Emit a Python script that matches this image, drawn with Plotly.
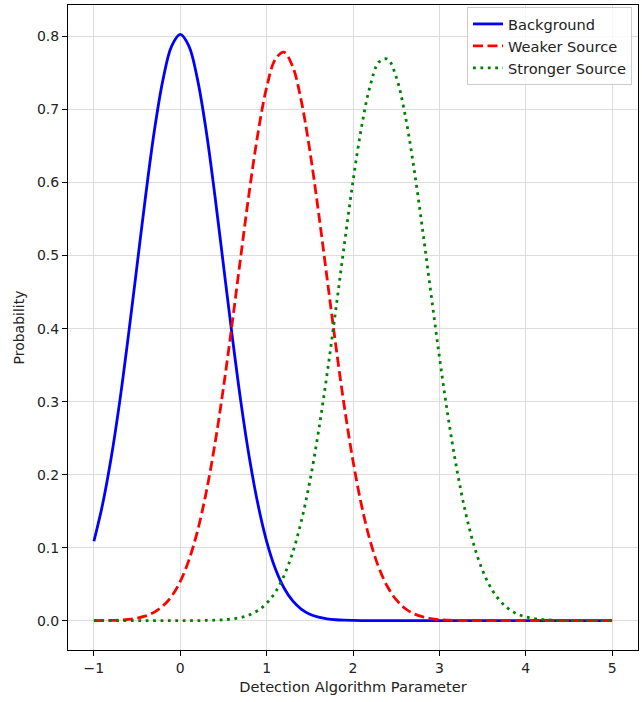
import plotly.graph_objects as go

x_values = [round(-1 + 0.1 * i, 1) for i in range(61)]

background = [
    0.1087, 0.159, 0.223, 0.301, 0.391, 0.487, 0.583, 0.671, 0.741, 0.787,
    0.803,
    0.787, 0.741, 0.671, 0.583, 0.487, 0.391, 0.301, 0.223, 0.159, 0.1087,
    0.0714, 0.0451, 0.0273, 0.0159, 0.0089, 0.0048, 0.0025, 0.0012, 0.0006, 0.0003,
    0.0001, 0, 0, 0, 0, 0, 0, 0, 0, 0,
    0, 0, 0, 0, 0, 0, 0, 0, 0, 0,
    0, 0, 0, 0, 0, 0, 0, 0, 0, 0,
]

weaker = [
    0.0001, 0.0002, 0.0004, 0.0009, 0.0018, 0.0035, 0.0065, 0.0117, 0.0202, 0.0335,
    0.0537,
    0.0829, 0.1229, 0.1755, 0.2412, 0.3192, 0.4065, 0.4983, 0.5881, 0.6679, 0.7303,
    0.7686, 0.7786, 0.7593, 0.7126, 0.6439, 0.5600, 0.4688, 0.3777, 0.2930, 0.2188,
    0.1572, 0.1087, 0.0724, 0.0464, 0.0287, 0.0170, 0.0097, 0.0054, 0.0028, 0.0014,
    0.0007, 0.0003, 0.0002, 0.0001, 0, 0, 0, 0, 0, 0,
    0, 0, 0, 0, 0, 0, 0, 0, 0, 0,
]

stronger = [
    0, 0, 0, 0, 0, 0, 0, 0, 0, 0,
    0.00002,
    0.00005, 0.0001, 0.0003, 0.0006, 0.0012, 0.0023, 0.0043, 0.0079, 0.0140, 0.0238,
    0.0388, 0.0612, 0.0928, 0.1355, 0.1908, 0.2588, 0.3380, 0.4253, 0.5154, 0.6018,
    0.6768, 0.7331, 0.7651, 0.7691, 0.7448, 0.6947, 0.6242, 0.5403, 0.4505, 0.3618,
    0.2799, 0.2086, 0.1497, 0.1035, 0.0689, 0.0442, 0.0274, 0.0163, 0.0093, 0.0052,
    0.0027, 0.0014, 0.0007, 0.0003, 0.0002, 0.0001, 0, 0, 0, 0,
]

series_names = ["Background", "Weaker Source", "Stronger Source"]
x_ticks = [-1, 0, 1, 2, 3, 4, 5]
y_ticks = [0.0, 0.1, 0.2, 0.3, 0.4, 0.5, 0.6, 0.7, 0.8]

FONT = "DejaVu Sans"
TICK_FS = 14
TITLE_FS = 14.6
TEXT_COLOR = "#222222"

fig = go.Figure()
fig.add_trace(go.Scatter(x=x_values, y=background, mode="lines", name=series_names[0],
                         line=dict(color="#0000ff", width=2.8, shape="spline")))
fig.add_trace(go.Scatter(x=x_values, y=weaker, mode="lines", name=series_names[1],
                         line=dict(color="#ff0000", width=2.8, dash="10px,4.5px", shape="spline")))
fig.add_trace(go.Scatter(x=x_values, y=stronger, mode="lines", name=series_names[2],
                         line=dict(color="#008000", width=2.8, dash="2.8px,4.6px", shape="spline")))

axis_common = dict(
    showline=True, linecolor="black", linewidth=1.1, mirror=True,
    ticks="outside", ticklen=5, tickwidth=1.1, tickcolor="black",
    showgrid=True, gridcolor="#dcdcdc", gridwidth=1, zeroline=False,
    tickfont=dict(family=FONT, size=TICK_FS, color=TEXT_COLOR),
    automargin=False,
)

fig.update_layout(
    width=642, height=702,
    margin=dict(l=68, r=4, t=5, b=52, autoexpand=False),
    paper_bgcolor="white", plot_bgcolor="white",
    font=dict(family=FONT, size=TICK_FS, color=TEXT_COLOR),
    xaxis=dict(range=[-1.3, 5.3], tickvals=x_ticks,
               title=dict(text="Detection Algorithm Parameter",
                          font=dict(family=FONT, size=TITLE_FS, color=TEXT_COLOR), standoff=6),
               **axis_common),
    yaxis=dict(range=[-0.0402, 0.8432], tickvals=y_ticks, tickformat=".1f",
               title=dict(text="Probability",
                          font=dict(family=FONT, size=TICK_FS, color=TEXT_COLOR), standoff=8),
               **axis_common),
    legend=dict(x=0.9895, y=0.997, xanchor="right", yanchor="top",
                bgcolor="rgba(255,255,255,0.8)", bordercolor="#cccccc", borderwidth=1,
                font=dict(family=FONT, size=TITLE_FS, color=TEXT_COLOR),
                tracegroupgap=0, itemwidth=30),
    showlegend=True,
)

fig.write_html("out.html", config={"displayModeBar": False},
               post_script="document.body.style.margin='0px';document.body.style.padding='0px';")
